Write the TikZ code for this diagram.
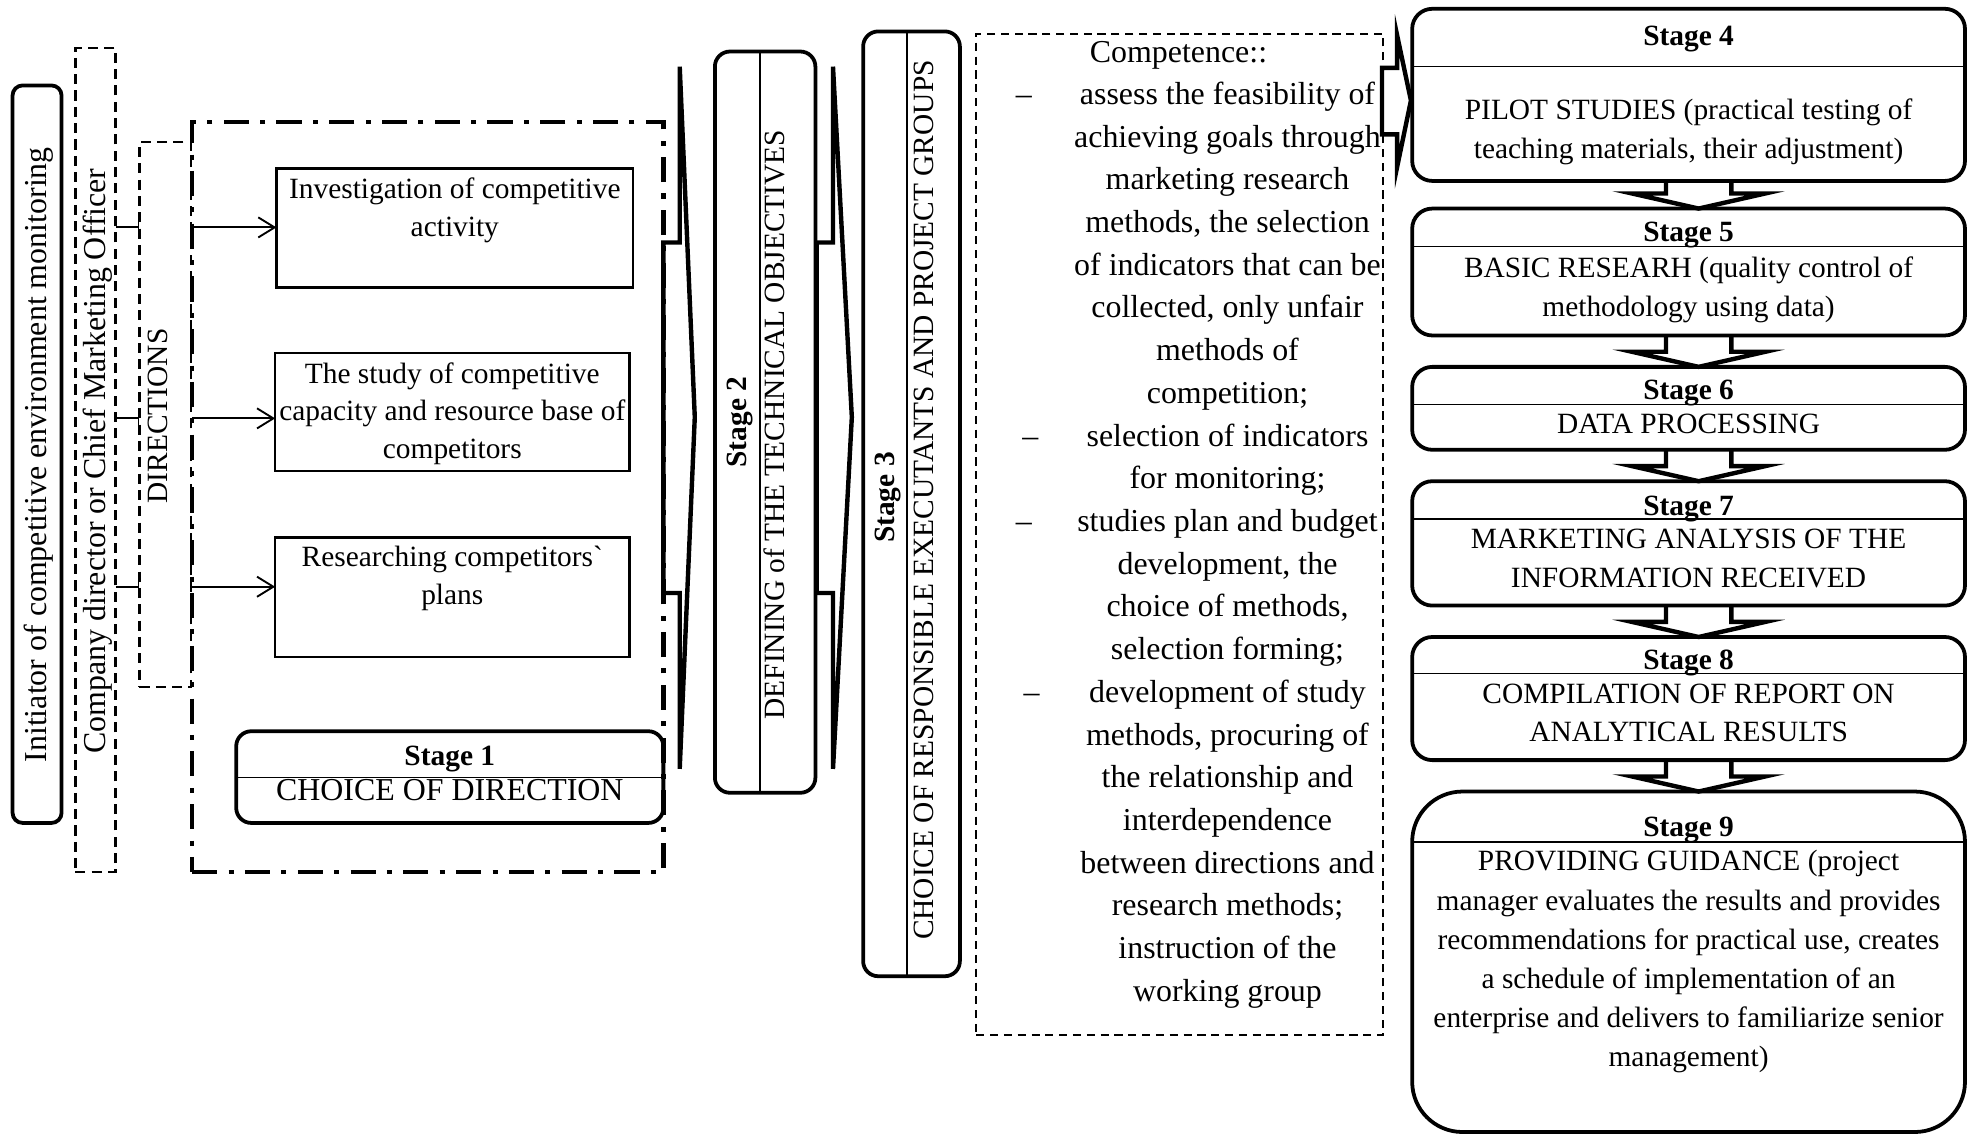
\documentclass[tikz,border=0pt]{standalone}
\usepackage{fontspec}
\setmainfont{Liberation Serif}
\usetikzlibrary{arrows.meta,calc}
\newcommand{\gravemark}{{\addfontfeature{Ligatures=TeXOff}`}}
\begin{document}
\begin{tikzpicture}[x=1pt,y=-1pt,
  every node/.style={inner sep=0pt,outer sep=0pt},
  txt/.style={font=\fontsize{23.4}{30}\selectfont,align=center},
  bigtxt/.style={font=\fontsize{25.4}{30}\selectfont,align=center},
  stg/.style={font=\fontsize{23.4}{30}\selectfont\bfseries},
  sz/.style 2 args={minimum width=#1pt,minimum height=#2pt},
  plainbox/.style={draw,line width=2pt},
  roundbox/.style={draw,line width=3pt,rounded corners=#1},
  roundbox/.default=16pt,
  dashbox/.style={draw,line width=1.8pt,dash pattern=on 8pt off 5pt},
  compbox/.style={draw,line width=1.6pt,dash pattern=on 6.5pt off 4.5pt},
  dotdashbox/.style={draw,line width=3.5pt,dash pattern=on 20pt off 9pt on 4pt off 9pt},
  divider/.style={line width=1.2pt},
  thinarrow/.style={line width=1.5pt,-{Straight Barb[length=13pt,width=16pt]}},
  tickline/.style={line width=1.5pt,-{Bar[width=10pt]}},
  blockarrow/.style={line width=3.5pt},
]
\useasboundingbox (0,0) rectangle (1568,903);

% ---------- initiator, officer and directions ----------
\node[roundbox=8pt,sz={39}{587}] (init) at (29.5,361.5) {};
\node[bigtxt,rotate=90] (tinit) at (31,362) {Initiator of competitive environment monitoring};
\node[dashbox,sz={32}{656}] (comp) at (76,366) {};
\node[bigtxt,rotate=90] (tcomp) at (78,367) {Company director or Chief Marketing Officer};
\node[dashbox,sz={41}{434}] (dirs) at (131.5,330) {};
\node[txt,rotate=90] (tdirs) at (126,331) {DIRECTIONS};

% ---------- stage 1 block ----------
\node[dotdashbox,sz={375}{597}] (dd) at (340.5,395.5) {};
\node[plainbox,sz={284}{95}] (b1) at (362,181.5) {};
\node[plainbox,sz={282}{94}] (b2) at (360,328) {};
\node[plainbox,sz={282}{95}] (b3) at (360,475.5) {};
\node[txt,anchor=north] (tb1) at (362,141.5) {Investigation of competitive\\activity};
\node[txt,anchor=north] (tb2) at (360,288.5) {The study of competitive\\capacity and resource base of\\competitors};
\node[txt,anchor=north] (tb3) at (360,434.5) {Researching competitors\gravemark\\plans};

\foreach \yy in {181,333,467}
  \draw[tickline] (comp.east |- 0,\yy) -- (dirs.west |- 0,\yy);
\draw[thinarrow] (dd.west |- 0,181) -- (b1.west |- 0,181);
\draw[thinarrow] (dd.west |- 0,333) -- (b2.west |- 0,333);
\draw[thinarrow] (dd.west |- 0,467) -- (b3.west |- 0,467);

\node[roundbox=12pt,sz={340}{73}] (s1) at (358,618.5) {};
\draw[divider] (s1.west |- 0,619) -- (s1.east |- 0,619);
\node[stg,anchor=base] (ts1) at (358,609) {Stage 1};
\node[bigtxt,anchor=base] (ns1) at (358,637) {CHOICE OF DIRECTION};

% ---------- stages 2 and 3 ----------
\draw[blockarrow] (528,193) -- (541,193) -- (541,53) -- (553,332) -- (541,612)
  -- (541,472) -- (528,472) -- cycle;
\node[roundbox=12pt,sz={80}{590}] (s2) at (609,336) {};
\draw[divider] (s2.north -| 605,0) -- (s2.south -| 605,0);
\node[stg,rotate=90] (ts2) at (589,336) {Stage 2};
\node[txt,rotate=90] (ns2) at (616,338) {DEFINING of THE TECHNICAL OBJECTIVES};

\draw[blockarrow] (650,193) -- (663,193) -- (663,53) -- (678,332) -- (663,612)
  -- (663,472) -- (650,472) -- cycle;
\node[roundbox=12pt,sz={77}{752}] (s3) at (725.5,401) {};
\draw[divider] (s3.north -| 722,0) -- (s3.south -| 722,0);
\node[stg,rotate=90] (ts3) at (707,396) {Stage 3};
\node[txt,rotate=90] (ns3) at (735,398) {CHOICE OF RESPONSIBLE EXECUTANTS AND PROJECT GROUPS};

% ---------- competence list ----------
\node[compbox,sz={324}{797}] (cbox) at (939,425.5) {};
\node[bigtxt,anchor=base] (chead) at (938,50) {Competence::};
\foreach \ln [count=\i from 0] in {assess the feasibility of, achieving goals through,
  marketing research, {methods, the selection}, of indicators that can be,
  {collected, only unfair}, methods of, competition;, selection of indicators,
  for monitoring;, studies plan and budget, {development, the}, {choice of methods,},
  selection forming;, development of study, {methods, procuring of},
  the relationship and, interdependence, between directions and,
  research methods;, instruction of the, working group}
  \node[bigtxt,anchor=base] (cl\i) at (977,83+34*\i) {\ln};
\node[bigtxt,anchor=base] (da) at (815,83) {\textendash};
\node[bigtxt,anchor=base] (db) at (820,355) {\textendash};
\node[bigtxt,anchor=base] (dc) at (815,423) {\textendash};
\node[bigtxt,anchor=base] (dd4) at (821,559) {\textendash};

\draw[blockarrow] (1100,54) -- (1112,54) -- (1112,28) -- (1123,80) -- (1112,133)
  -- (1112,107) -- (1100,107) -- cycle;

% ---------- stages 4 to 9 ----------
\node[roundbox,sz={440}{137}] (s4) at (1344,75.5) {};
\draw[divider] (s4.west |- 0,53) -- (s4.east |- 0,53);
\node[stg,anchor=base] (ts4) at (1344,36) {Stage 4};
\node[txt,anchor=north,font=\fontsize{23.4}{31}\selectfont] (ns4) at (1344,78.5)
  {PILOT STUDIES (practical testing of\\teaching materials, their adjustment)};

\node[roundbox,sz={440}{101}] (s5) at (1344,216.5) {};
\draw[divider] (s5.west |- 0,196) -- (s5.east |- 0,196);
\node[stg,anchor=base] (ts5) at (1344,192) {Stage 5};
\node[txt,anchor=north,font=\fontsize{23.4}{31}\selectfont] (ns5) at (1344,204.5)
  {BASIC RESEARH (quality control of\\methodology using data)};

\node[roundbox,sz={440}{66}] (s6) at (1344,325) {};
\draw[divider] (s6.west |- 0,322) -- (s6.east |- 0,322);
\node[stg,anchor=base] (ts6) at (1344,318) {Stage 6};
\node[txt,anchor=base] (ns6) at (1344,345) {DATA PROCESSING};

\node[roundbox,sz={440}{99}] (s7) at (1344,432.5) {};
\draw[divider] (s7.west |- 0,413) -- (s7.east |- 0,413);
\node[stg,anchor=base] (ts7) at (1344,410) {Stage 7};
\node[txt,anchor=north,font=\fontsize{23.4}{31}\selectfont] (ns7) at (1344,420.8)
  {MARKETING ANALYSIS OF THE\\INFORMATION RECEIVED};

\node[roundbox,sz={440}{98}] (s8) at (1344,556) {};
\draw[divider] (s8.west |- 0,536) -- (s8.east |- 0,536);
\node[stg,anchor=base] (ts8) at (1344,533) {Stage 8};
\node[txt,anchor=north] (ns8) at (1344,544.8)
  {COMPILATION OF REPORT ON\\ANALYTICAL RESULTS};

\node[roundbox=40pt,sz={440}{271}] (s9) at (1344,765.5) {};
\draw[divider] (s9.west |- 0,670) -- (s9.east |- 0,670);
\node[stg,anchor=base] (ts9) at (1344,666) {Stage 9};
\node[txt,anchor=north,font=\fontsize{23.4}{31.1}\selectfont] (ns9) at (1344,677)
  {PROVIDING GUIDANCE (project\\manager evaluates the results and provides\\
   recommendations for practical use, creates\\a schedule of implementation of an\\
   enterprise and delivers to familiarize senior\\management)};

% block arrows joining consecutive stages
\foreach \u/\l in {s4/s5,s5/s6,s6/s7,s7/s8,s8/s9}
  \draw[blockarrow] ($(\u.south)+(-18,0)$) |- ($(\l.north)+(-45,-12)$)
    -- ($(\l.north)+(8,0)$) -- ($(\l.north)+(61,-12)$) -| ($(\u.south)+(34,0)$);
\end{tikzpicture}
\end{document}
